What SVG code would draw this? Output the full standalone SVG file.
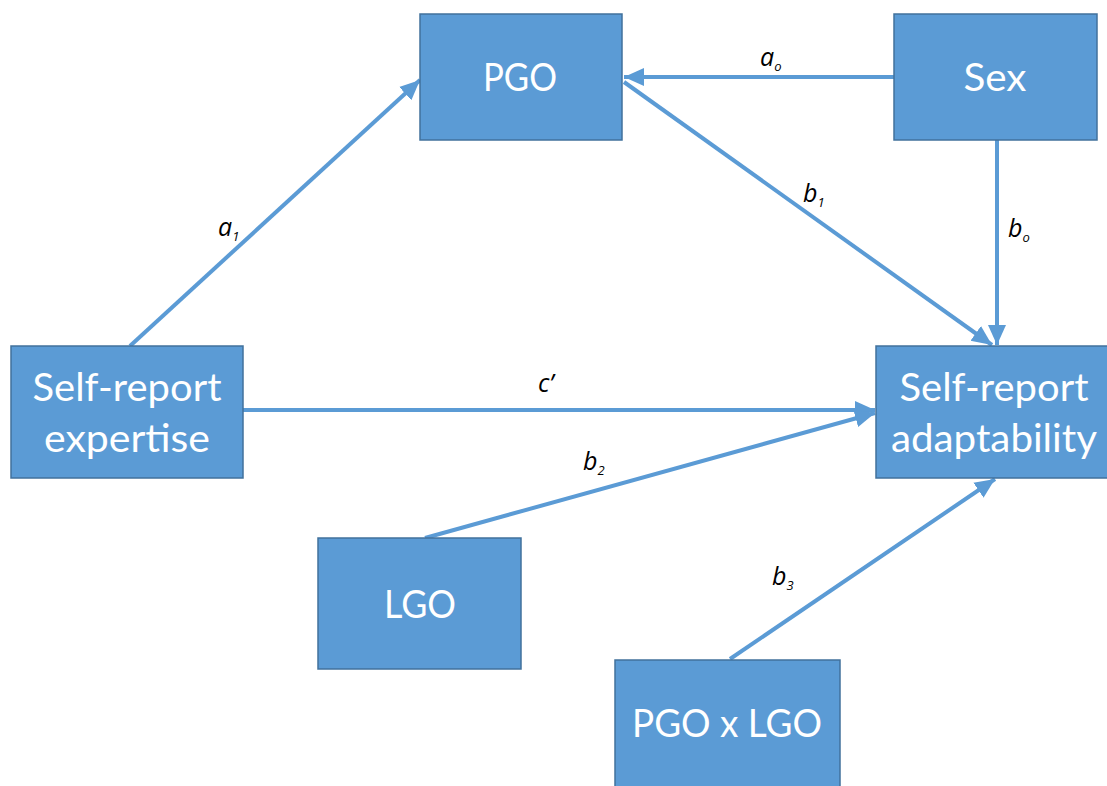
<svg xmlns="http://www.w3.org/2000/svg" width="1107" height="786" viewBox="0 0 1107 786">
<style>
.box{fill:#5B9BD5;stroke:#41719C;stroke-width:1.5}
.nt{font-family:Lato,"Open Sans",sans-serif;font-size:38px;fill:#ffffff;text-anchor:middle}
.ln{stroke:#5B9BD5;stroke-width:4;fill:none;marker-end:url(#ah)}
.lb{font-family:"Open Sans","Liberation Sans",sans-serif;font-style:italic;font-size:25px;fill:#000000}
.sub{font-size:13px}
</style>
<defs>
<marker id="ah" markerUnits="userSpaceOnUse" markerWidth="22" markerHeight="22" viewBox="0 0 22 22" refX="20" refY="11" orient="auto">
<path d="M0,2 L20,11 L0,20 Z" fill="#5B9BD5"/>
</marker>
</defs>
<rect width="1107" height="786" fill="#ffffff"/>
<g id="connectors">
<line class="ln" x1="130" y1="346" x2="420" y2="80"/>
<line class="ln" x1="894" y1="77" x2="624" y2="77"/>
<line class="ln" x1="624" y1="82" x2="992" y2="345"/>
<line class="ln" x1="997" y1="140" x2="997" y2="345"/>
<line class="ln" x1="243" y1="410" x2="875" y2="410"/>
<line class="ln" x1="425" y1="538" x2="875" y2="413"/>
<line class="ln" x1="730" y1="659" x2="995" y2="479"/>
<text class="lb" x="218" y="236">a<tspan class="sub" dy="5">1</tspan></text>
<text class="lb" x="760" y="66">a<tspan class="sub" dy="5">o</tspan></text>
<text class="lb" x="803" y="202">b<tspan class="sub" dy="5">1</tspan></text>
<text class="lb" x="1008" y="237">b<tspan class="sub" dy="5">o</tspan></text>
<text class="lb" x="538" y="392">c’</text>
<text class="lb" x="583" y="470">b<tspan class="sub" dy="5">2</tspan></text>
<text class="lb" x="772" y="585">b<tspan class="sub" dy="5">3</tspan></text>
</g>
<g id="node-pgo"><rect class="box" x="420" y="14" width="202" height="126"/><text class="nt" x="520" y="91" textLength="74" lengthAdjust="spacingAndGlyphs">PGO</text></g>
<g id="node-sex"><rect class="box" x="894" y="14" width="203" height="126"/><text class="nt" x="995" y="91" textLength="63" lengthAdjust="spacingAndGlyphs">Sex</text></g>
<g id="node-expertise"><rect class="box" x="11" y="346" width="232" height="132"/><text class="nt" x="127" y="401" textLength="189" lengthAdjust="spacingAndGlyphs">Self-report</text><text class="nt" x="127" y="452" textLength="166" lengthAdjust="spacingAndGlyphs">expertise</text></g>
<g id="node-adaptability"><rect class="box" x="876" y="346" width="235" height="132"/><text class="nt" x="994" y="401" textLength="189" lengthAdjust="spacingAndGlyphs">Self-report</text><text class="nt" x="994" y="452" textLength="206" lengthAdjust="spacingAndGlyphs">adaptability</text></g>
<g id="node-lgo"><rect class="box" x="318" y="538" width="203" height="131"/><text class="nt" x="420" y="618" textLength="72" lengthAdjust="spacingAndGlyphs">LGO</text></g>
<g id="node-pgoxlgo"><rect class="box" x="615" y="660" width="225" height="130"/><text class="nt" x="727" y="737" textLength="190" lengthAdjust="spacingAndGlyphs">PGO x LGO</text></g>
</svg>
